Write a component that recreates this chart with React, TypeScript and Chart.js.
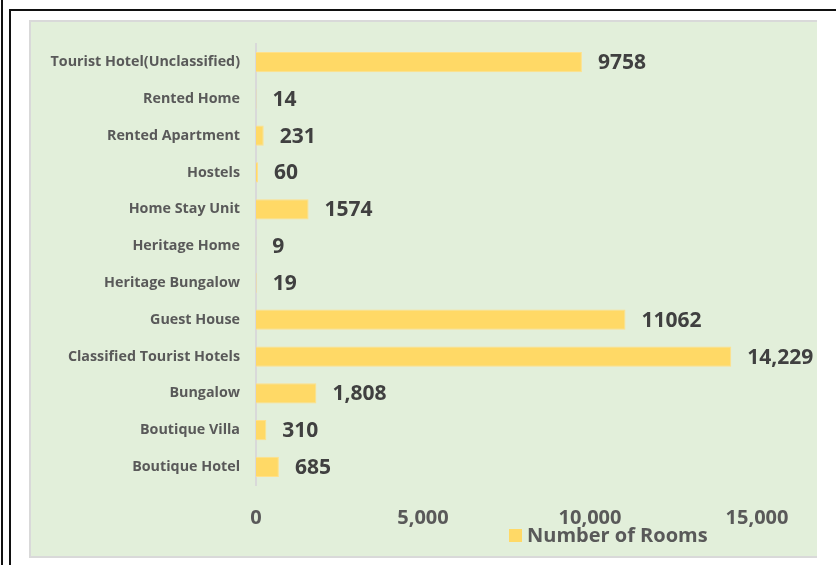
import React, { useEffect, useRef } from "react";
import { Chart, registerables } from "chart.js";

Chart.register(...registerables);

const categories = [
  "Tourist Hotel(Unclassified)",
  "Rented Home",
  "Rented Apartment",
  "Hostels",
  "Home Stay Unit",
  "Heritage Home",
  "Heritage Bungalow",
  "Guest House",
  "Classified Tourist Hotels",
  "Bungalow",
  "Boutique Villa",
  "Boutique Hotel",
];
const rooms = [9758, 14, 231, 60, 1574, 9, 19, 11062, 14229, 1808, 310, 685];
const roomLabels = ["9758", "14", "231", "60", "1574", "9", "19", "11062", "14,229", "1,808", "310", "685"];
const seriesName = "Number of Rooms";
const xTicks = [0, 5000, 10000, 15000];

const FONT = "'Open Sans', sans-serif";

export default function App() {
  const ref = useRef<HTMLCanvasElement | null>(null);
  useEffect(() => {
    document.body.style.margin = "0";
    const canvas = ref.current!;
    const valuePlugin = {
      id: "valueLabels",
      afterDatasetsDraw(chart: any) {
        const ctx = chart.ctx;
        const meta = chart.getDatasetMeta(0);
        ctx.save();
        ctx.font = `bold 21px ${FONT}`;
        ctx.fillStyle = "#404040";
        ctx.textAlign = "left";
        ctx.textBaseline = "middle";
        meta.data.forEach((bar: any, i: number) => {
          ctx.fillText(roomLabels[i], bar.x + 16, bar.y + 1);
        });
        ctx.restore();
      },
      afterDraw(chart: any) {
        const ctx = chart.ctx;
        ctx.save();
        const x = chart.scales.x.getPixelForValue(10000) - 81;
        const y = 516;
        ctx.fillStyle = "#ffd966";
        ctx.fillRect(x, y - 7, 13, 13);
        ctx.font = `bold 20px ${FONT}`;
        ctx.fillStyle = "#595959";
        ctx.textBaseline = "middle";
        ctx.textAlign = "left";
        ctx.fillText(seriesName, x + 18, y);
        ctx.restore();
      },
    };
    const chart = new Chart(canvas, {
      type: "bar",
      data: {
        labels: categories,
        datasets: [
          {
            label: seriesName,
            data: rooms,
            backgroundColor: "#ffd966",
            borderColor: "#ffe08a",
            borderWidth: 1,
            categoryPercentage: 1,
            barPercentage: 0.55,
          },
        ],
      },
      options: {
        indexAxis: "y",
        animation: false,
        responsive: false,
        layout: { padding: { top: 23.6, right: 60, bottom: 0, left: 0 } },
        plugins: { legend: { display: false }, tooltip: { enabled: false } },
        scales: {
          x: {
            min: 0,
            max: 15000,
            afterBuildTicks(scale: any) {
              scale.ticks = xTicks.map((v) => ({ value: v }));
            },
            afterFit(scale: any) {
              scale.height = 72.6;
            },
            grid: { display: false },
            border: { display: false },
            ticks: {
              padding: 13,
              color: "#595959",
              font: { family: FONT, size: 20, weight: "bold" },
              callback: (v: any) => Number(v).toLocaleString("en-US"),
              maxRotation: 0,
            },
          },
          y: {
            afterFit(scale: any) {
              scale.width = 226;
            },
            grid: { display: false },
            border: { display: true, color: "#d9d9d9", width: 2 },
            ticks: {
              padding: 8,
              color: "#595959",
              font: { family: FONT, size: 14.3, weight: "bold" },
            },
          },
        },
      },
      plugins: [valuePlugin],
    });
    return () => chart.destroy();
  }, []);

  return (
    <div style={{ position: "absolute", left: 0, top: 0, width: 836, height: 565, background: "#fff", overflow: "hidden" }}>
      <div style={{ position: "absolute", left: 1, top: 0, width: 2, height: 565, background: "#111" }} />
      <div style={{ position: "absolute", left: 9, top: 9, width: 2, height: 556, background: "#111" }} />
      <div style={{ position: "absolute", left: 9, top: 9, width: 827, height: 2, background: "#111" }} />
      <div
        style={{
          position: "absolute",
          left: 29,
          top: 20,
          width: 788,
          height: 538,
          background: "#e2efda",
          borderTop: "2px solid #d9d9d9",
          borderLeft: "2px solid #d9d9d9",
          borderBottom: "2px solid #d9d9d9",
          boxSizing: "border-box",
        }}
      />
      <canvas ref={ref} width={787} height={538} style={{ position: "absolute", left: 30, top: 20 }} />
    </div>
  );
}
